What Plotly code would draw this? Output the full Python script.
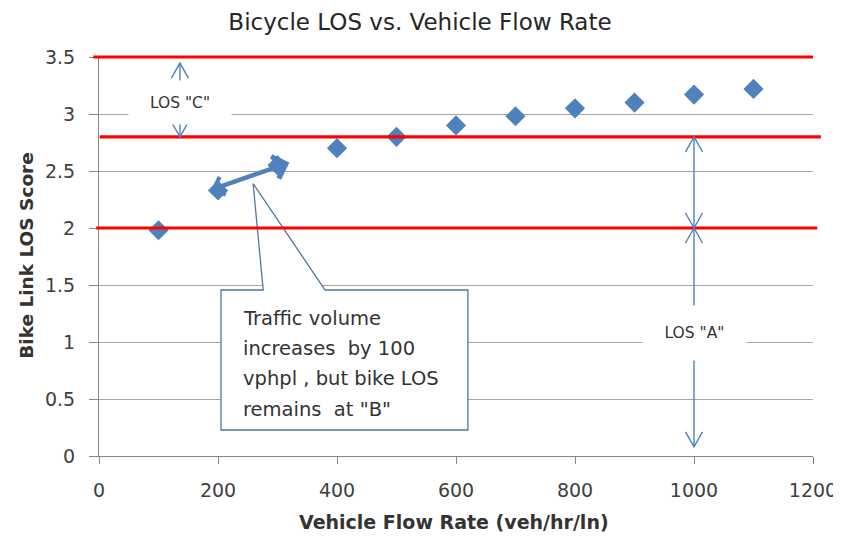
import plotly.graph_objects as go

# ---- data ----
flow_rate = [100, 200, 300, 400, 500, 600, 700, 800, 900, 1000, 1100]
los_score = [1.98, 2.33, 2.55, 2.70, 2.80, 2.90, 2.98, 3.05, 3.10, 3.17, 3.22]
los_thresholds = [2.0, 2.8, 3.5]
x_ticks = [0, 200, 400, 600, 800, 1000, 1200]
y_ticks = [0, 0.5, 1, 1.5, 2, 2.5, 3, 3.5]
callout_lines = ["Traffic volume", "increases  by 100", "vphpl , but bike LOS", 'remains  at "B"']

X_MAX, Y_MAX = 1200, 3.5
BLUE = "#4F81BD"
FONT = "DejaVu Sans"
# page body has an 8px margin; figure sized so it fits the 841x539 window
W, H = 833, 531
ML, MR, MT, MB = 91, 28, 49, 83
px_x = X_MAX / (W - ML - MR)   # data units per pixel
px_y = Y_MAX / (H - MT - MB)

fig = go.Figure()
fig.add_trace(go.Scatter(
    x=flow_rate, y=los_score, mode="markers",
    marker=dict(symbol="diamond", size=15.5, color=BLUE, line=dict(width=0)),
    cliponaxis=False, showlegend=False,
))

shapes = []
# callout box with pointer (white fill)
callout_path = ("M 205,1.456 L 276,1.456 L 259,2.39 L 380,1.456 L 620,1.456 "
                "L 620,0.228 L 205,0.228 Z")
shapes.append(dict(type="path", path=callout_path, xref="x", yref="y",
                   fillcolor="white", line=dict(color="#5474A2", width=1.3),
                   layer="above"))
# red threshold lines (slightly different extents, as in the original drawing)
red_extents = {2.0: (-0.004, 1.006), 2.8: (0.001, 1.011), 3.5: (-0.008, 1.0)}
for t in los_thresholds:
    x0, x1 = red_extents[t]
    shapes.append(dict(type="line", xref="paper", yref="paper", x0=x0, x1=x1,
                       y0=t / Y_MAX, y1=t / Y_MAX,
                       line=dict(color="#FF0000", width=3.2), layer="above"))

def vline(x, y0, y1):
    return dict(type="line", xref="x", yref="y", x0=x, x1=x, y0=y0, y1=y1,
                line=dict(color=BLUE, width=1.4), layer="above")

def chevron(x, y, direction):
    dx = 8.5 * px_x
    dy = 15 * px_y * direction
    path = f"M {x - dx},{y - dy} L {x},{y} L {x + dx},{y - dy}"
    return dict(type="path", path=path, xref="x", yref="y",
                line=dict(color=BLUE, width=1.4), layer="above")

# LOS C double arrow
shapes.append(vline(136, 3.447, 2.78))
shapes.append(chevron(136, 3.447, 1))
shapes.append(chevron(136, 2.80, -1))
# LOS A double arrows
shapes.append(vline(1000, 2.80, 0.08))
shapes.append(chevron(1000, 2.80, 1))
shapes.append(chevron(1000, 2.00, -1))
shapes.append(chevron(1000, 2.00, 1))
shapes.append(chevron(1000, 0.08, -1))

annotations = []
# thick double-headed arrow
annotations.append(dict(x=320, y=2.575, ax=186, ay=2.33, xref="x", yref="y",
                        axref="x", ayref="y", text="", showarrow=True,
                        arrowside="end+start",
                        arrowhead=4, startarrowhead=4, arrowsize=1.0, startarrowsize=0.8,
                        arrowwidth=4.5, arrowcolor=BLUE, standoff=0, startstandoff=0))
# callout text
for txt, yv in zip(callout_lines, [1.21, 0.947, 0.684, 0.41]):
    annotations.append(dict(x=238, y=yv, xref="x", yref="y", text=txt,
                            showarrow=False, xanchor="left", yanchor="middle",
                            font=dict(family=FONT, size=19.5, color="#333333")))
# labels with white boxes
annotations.append(dict(x=136, y=3.10, xref="x", yref="y", text='LOS "C"',
                        showarrow=False, bgcolor="white", width=100, height=41,
                        font=dict(family=FONT, size=15.5, color="#333333")))
annotations.append(dict(x=1000, y=1.08, xref="x", yref="y", text='LOS "A"',
                        showarrow=False, bgcolor="white", width=101, height=52,
                        font=dict(family=FONT, size=15.5, color="#333333")))
# axis titles
annotations.append(dict(x=0.497, y=-0.165, xref="paper", yref="paper",
                        text="<b>Vehicle Flow Rate (veh/hr/ln)</b>", showarrow=False,
                        font=dict(family=FONT, size=19, color="#333333"),
                        xanchor="center", yanchor="middle"))
annotations.append(dict(x=-0.101, y=0.504, xref="paper", yref="paper",
                        text="<b>Bike Link LOS Score</b>", showarrow=False,
                        textangle=-90,
                        font=dict(family=FONT, size=18.5, color="#333333"),
                        xanchor="center", yanchor="middle"))

fig.update_layout(
    width=W, height=H,
    margin=dict(l=ML, r=MR, t=MT, b=MB),
    paper_bgcolor="white", plot_bgcolor="white",
    title=dict(text="Bicycle LOS vs. Vehicle Flow Rate", x=412 / W, xanchor="center",
               y=1 - 14 / H, yanchor="middle",
               font=dict(family=FONT, size=23, color="#262626")),
    xaxis=dict(range=[0, X_MAX], tickvals=x_ticks, showgrid=False, zeroline=False,
               showline=True, linecolor="#868686", linewidth=1, automargin=False,
               ticks="outside", ticklen=7, tickcolor="#868686",
               ticklabelstandoff=10,
               tickfont=dict(family=FONT, size=19, color="#404040")),
    yaxis=dict(range=[0, Y_MAX], tickvals=y_ticks, showgrid=True, gridcolor="#A6A6A6",
               gridwidth=1, zeroline=False, showline=True, linecolor="#868686",
               automargin=False,
               ticks="outside", ticklen=9, tickcolor="#868686",
               ticklabelstandoff=10,
               tickfont=dict(family=FONT, size=19, color="#404040")),
    shapes=shapes, annotations=annotations,
)

fig.write_html("out.html")
